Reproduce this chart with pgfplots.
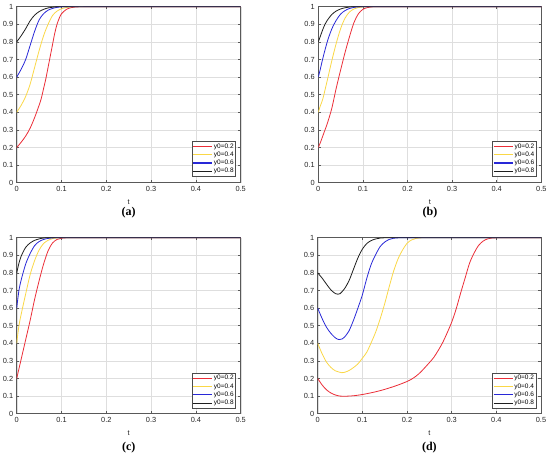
\documentclass[border=0pt]{standalone}
\usepackage{pgfplots}
\pgfplotsset{compat=1.18}
\usepackage{fontspec}
\setmainfont{Liberation Sans}
\newfontfamily\capfont{Liberation Serif}
\definecolor{cR}{RGB}{235,45,55}
\definecolor{cY}{RGB}{250,215,70}
\definecolor{cB}{RGB}{40,40,215}
\definecolor{cK}{RGB}{30,30,30}
\pgfplotsset{
  myax/.style={
    scale only axis, width=224pt, height=176pt,
    xmin=0, xmax=0.5, ymin=0, ymax=1,
    xtick={0,0.1,0.2,0.3,0.4,0.5},
    ytick={0,0.1,0.2,0.3,0.4,0.5,0.6,0.7,0.8,0.9,1},
    grid=major, major grid style={black!13, line width=0.4pt},
    axis line style={black!65, line width=0.5pt},
    tick style={black!65, line width=0.5pt},
    tick align=inside, major tick length=2.5pt,
    xtick pos=both, ytick pos=both,
    xticklabel pos=lower, yticklabel pos=left,
    /pgf/number format/assume math mode=true,
    ticklabel style={font=\fontsize{7.4}{8}\selectfont, text=black!85},
    xlabel={t}, xlabel style={font=\fontsize{7.4}{8}\selectfont, text=black!85, yshift=-1.5pt},
    legend cell align=left,
    legend image code/.code={\draw[#1, line width=1.1pt] (0pt,0pt) -- (19pt,0pt);},
    legend style={at={(0.978,0.031)}, anchor=south east,
      font=\fontsize{6.5}{7}\selectfont, draw=black!70, fill=white, line width=0.4pt,
      inner sep=0.8pt, row sep=0pt, nodes={inner sep=1.1pt}},
    every axis plot/.append style={line width=0.8pt, smooth, no markers},
  }
}
\begin{document}
\begin{tikzpicture}
\useasboundingbox (0pt,0pt) rectangle (550pt,456pt);
% (a)
\begin{axis}[myax, at={(16.7pt,273.3pt)}, anchor=south west, legend style={at={(0.978,0.036)}}]
\addplot[draw=cR] coordinates {(0,0.2)(0.01,0.23)(0.02,0.265)(0.03,0.31)(0.04,0.37)(0.05,0.44)(0.055,0.48)(0.06,0.535)(0.065,0.59)(0.07,0.655)(0.075,0.72)(0.08,0.785)(0.085,0.85)(0.09,0.9)(0.095,0.935)(0.10,0.96)(0.11,0.983)(0.12,0.994)(0.13,0.998)(0.15,1)(0.2,1)(0.5,1)};
\addplot[draw=cY] coordinates {(0,0.4)(0.01,0.44)(0.02,0.49)(0.03,0.56)(0.04,0.655)(0.05,0.75)(0.06,0.835)(0.07,0.9)(0.08,0.95)(0.09,0.975)(0.10,0.988)(0.11,0.995)(0.13,1)(0.2,1)(0.5,1)};
\addplot[draw=cB] coordinates {(0,0.6)(0.01,0.645)(0.02,0.70)(0.03,0.78)(0.04,0.86)(0.05,0.925)(0.06,0.96)(0.07,0.98)(0.08,0.99)(0.09,0.996)(0.11,1)(0.2,1)(0.5,1)};
\addplot[draw=cK] coordinates {(0,0.8)(0.01,0.835)(0.02,0.875)(0.03,0.92)(0.04,0.952)(0.05,0.972)(0.06,0.985)(0.07,0.993)(0.08,0.997)(0.1,1)(0.2,1)(0.5,1)};
\legend{y0=0.2,y0=0.4,y0=0.6,y0=0.8}
\end{axis}
% (b)
\begin{axis}[myax, width=223pt, at={(318.3pt,273.3pt)}, anchor=south west, legend style={at={(0.978,0.036)}}]
\addplot[draw=cR] coordinates {(0,0.2)(0.005,0.23)(0.01,0.265)(0.015,0.3)(0.02,0.335)(0.03,0.42)(0.04,0.535)(0.05,0.64)(0.06,0.74)(0.07,0.83)(0.08,0.91)(0.09,0.96)(0.10,0.985)(0.11,0.995)(0.12,0.999)(0.14,1)(0.2,1)(0.5,1)};
\addplot[draw=cY] coordinates {(0,0.4)(0.005,0.44)(0.01,0.475)(0.02,0.58)(0.03,0.69)(0.04,0.79)(0.05,0.875)(0.06,0.935)(0.07,0.97)(0.08,0.987)(0.09,0.995)(0.10,0.999)(0.12,1)(0.2,1)(0.5,1)};
\addplot[draw=cB] coordinates {(0,0.6)(0.005,0.65)(0.01,0.705)(0.02,0.80)(0.03,0.872)(0.04,0.922)(0.05,0.958)(0.06,0.978)(0.07,0.99)(0.08,0.996)(0.10,1)(0.2,1)(0.5,1)};
\addplot[draw=cK] coordinates {(0,0.8)(0.005,0.835)(0.01,0.87)(0.015,0.9)(0.02,0.922)(0.03,0.955)(0.04,0.975)(0.05,0.987)(0.06,0.994)(0.07,0.998)(0.09,1)(0.2,1)(0.5,1)};
\legend{y0=0.2,y0=0.4,y0=0.6,y0=0.8}
\end{axis}
% (c)
\begin{axis}[myax, at={(16.7pt,42.3pt)}, anchor=south west]
\addplot[draw=cR] coordinates {(0,0.2)(0.005,0.255)(0.01,0.31)(0.02,0.42)(0.03,0.53)(0.04,0.65)(0.05,0.755)(0.06,0.85)(0.07,0.925)(0.08,0.97)(0.09,0.99)(0.10,0.997)(0.12,1)(0.2,1)(0.5,1)};
\addplot[draw=cY] coordinates {(0,0.4)(0.005,0.5)(0.01,0.565)(0.02,0.68)(0.03,0.79)(0.04,0.87)(0.05,0.93)(0.06,0.967)(0.07,0.985)(0.08,0.995)(0.09,0.999)(0.11,1)(0.2,1)(0.5,1)};
\addplot[draw=cB] coordinates {(0,0.6)(0.005,0.7)(0.01,0.76)(0.02,0.85)(0.03,0.91)(0.04,0.955)(0.05,0.978)(0.06,0.99)(0.07,0.996)(0.08,0.999)(0.10,1)(0.2,1)(0.5,1)};
\addplot[draw=cK] coordinates {(0,0.8)(0.005,0.855)(0.01,0.895)(0.02,0.945)(0.03,0.97)(0.04,0.985)(0.05,0.993)(0.06,0.998)(0.08,1)(0.2,1)(0.5,1)};
\legend{y0=0.2,y0=0.4,y0=0.6,y0=0.8}
\end{axis}
% (d)
\begin{axis}[myax, width=223.3pt, at={(317.7pt,42.3pt)}, anchor=south west]
\addplot[draw=cR] coordinates {(0,0.2)(0.01,0.163)(0.02,0.135)(0.03,0.117)(0.04,0.106)(0.05,0.1)(0.06,0.099)(0.08,0.102)(0.10,0.109)(0.12,0.119)(0.14,0.131)(0.16,0.146)(0.18,0.163)(0.20,0.183)(0.21,0.196)(0.22,0.213)(0.23,0.235)(0.24,0.262)(0.25,0.29)(0.26,0.32)(0.27,0.36)(0.28,0.405)(0.29,0.46)(0.30,0.52)(0.31,0.595)(0.32,0.685)(0.33,0.77)(0.34,0.855)(0.35,0.912)(0.36,0.955)(0.37,0.98)(0.38,0.993)(0.39,0.998)(0.41,1)(0.45,1)(0.5,1)};
\addplot[draw=cY] coordinates {(0,0.4)(0.01,0.34)(0.02,0.292)(0.03,0.262)(0.04,0.243)(0.054,0.233)(0.06,0.235)(0.07,0.245)(0.08,0.262)(0.09,0.283)(0.10,0.315)(0.11,0.35)(0.12,0.405)(0.13,0.465)(0.14,0.54)(0.15,0.625)(0.16,0.72)(0.17,0.81)(0.18,0.88)(0.19,0.93)(0.20,0.968)(0.21,0.987)(0.22,0.996)(0.24,1)(0.3,1)(0.5,1)};
\addplot[draw=cB] coordinates {(0,0.6)(0.01,0.54)(0.02,0.49)(0.03,0.455)(0.04,0.43)(0.048,0.421)(0.055,0.425)(0.06,0.435)(0.07,0.47)(0.08,0.53)(0.09,0.6)(0.10,0.675)(0.11,0.77)(0.12,0.85)(0.13,0.905)(0.14,0.95)(0.15,0.975)(0.16,0.99)(0.17,0.997)(0.19,1)(0.25,1)(0.5,1)};
\addplot[draw=cK] coordinates {(0,0.8)(0.01,0.77)(0.02,0.735)(0.03,0.702)(0.04,0.682)(0.045,0.679)(0.05,0.682)(0.06,0.71)(0.07,0.755)(0.08,0.82)(0.09,0.885)(0.10,0.935)(0.11,0.967)(0.12,0.984)(0.13,0.993)(0.14,0.998)(0.16,1)(0.2,1)(0.5,1)};
\legend{y0=0.2,y0=0.4,y0=0.6,y0=0.8}
\end{axis}
\node[font=\capfont\bfseries\fontsize{12}{13}\selectfont] at (128.7pt,243pt) {(a)};
\node[font=\capfont\bfseries\fontsize{12}{13}\selectfont] at (430pt,243pt) {(b)};
\node[font=\capfont\bfseries\fontsize{12}{13}\selectfont] at (128.7pt,8pt) {(c)};
\node[font=\capfont\bfseries\fontsize{12}{13}\selectfont] at (429.4pt,8pt) {(d)};
\end{tikzpicture}
\end{document}
